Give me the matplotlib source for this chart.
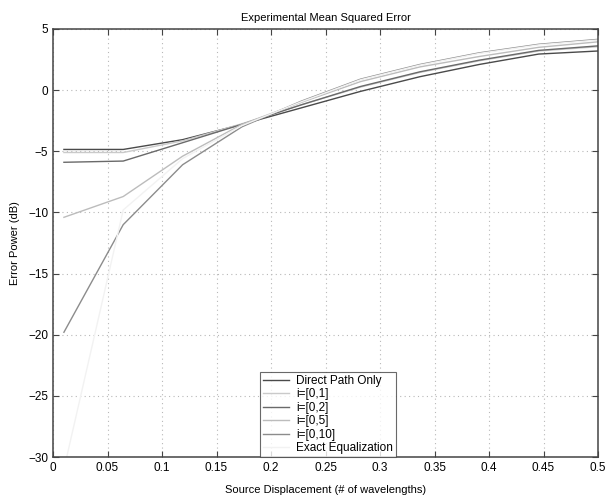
import numpy as np
import matplotlib.pyplot as plt

plt.rcParams['font.family'] = ['Liberation Sans', 'DejaVu Sans']

# source displacement (wavelengths), 10 sample points
disp = [0.01, 0.0644, 0.1189, 0.1733, 0.2278, 0.2822, 0.3367, 0.3911, 0.4456, 0.5]

# error power (dB) per equalizer
direct = [-4.85, -4.85, -4.05, -2.8, -1.45, -0.1, 1.1, 2.1, 2.95, 3.2]
i01 = [-5.1, -5.1, -4.15, -2.75, -1.2, 0.25, 1.45, 2.4, 3.2, 3.55]
i02 = [-5.9, -5.8, -4.3, -2.8, -1.2, 0.3, 1.5, 2.45, 3.25, 3.62]
i05 = [-10.4, -8.7, -5.4, -2.8, -1.0, 0.7, 1.9, 2.75, 3.5, 3.95]
i010 = [-19.8, -11.0, -6.1, -3.0, -0.9, 0.9, 2.1, 3.05, 3.75, 4.15]
exact = [-31.0, -9.8, -5.6, -2.9, -0.95, 0.85, 2.05, 3.0, 3.7, 4.1]

labels = ['Direct Path Only', 'i=[0,1]', 'i=[0,2]', 'i=[0,5]', 'i=[0,10]', 'Exact Equalization']
series = [direct, i01, i02, i05, i010, exact]
colors = ['#4a4a4a', '#cacaca', '#6a6a6a', '#bcbcbc', '#8c8c8c', '#f2f2f2']

fig = plt.figure(figsize=(6.08, 4.98), dpi=100)
ax = fig.add_axes([0.0872, 0.0823, 0.8964, 0.8595])

for y, lab, c in zip(series, labels, colors):
    ax.plot(disp, y, color=c, lw=1.0, label=lab)

ax.set_xlim(0, 0.5)
ax.set_ylim(-30, 5)
ax.set_xticks(np.arange(0, 0.51, 0.05))
ax.set_xticklabels(['0', '0.05', '0.1', '0.15', '0.2', '0.25', '0.3', '0.35', '0.4', '0.45', '0.5'])
ax.set_yticks(np.arange(-30, 6, 5))
ax.tick_params(direction='in', top=True, right=True, labelsize=8.5, length=4, color='#444444')
ax.grid(True, linestyle=(0, (1, 3)), color='#b8b8b8', lw=0.8)
for s in ax.spines.values():
    s.set_color('#444444')
    s.set_linewidth(1.1)

ax.set_title('Experimental Mean Squared Error', fontsize=8, pad=6)
ax.set_xlabel('Source Displacement (# of wavelengths)', fontsize=8, labelpad=8)
ax.set_ylabel('Error Power (dB)', fontsize=8, labelpad=6)

leg = ax.legend(loc='lower center', bbox_to_anchor=(0.505, 0.0), borderaxespad=0,
                fontsize=8.5, frameon=True, fancybox=False, handlelength=2.2,
                handletextpad=0.6, labelspacing=0.12, borderpad=0.25)
leg.get_frame().set_edgecolor('#444444')
leg.get_frame().set_linewidth(0.8)

fig.savefig('out.png', dpi=100)
